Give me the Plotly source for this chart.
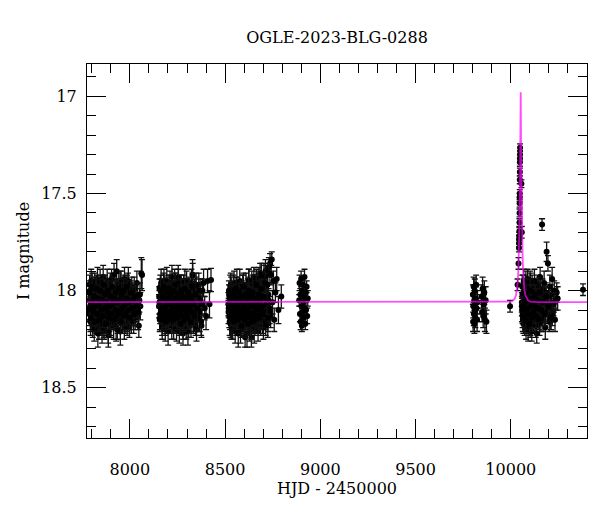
import plotly.graph_objects as go

# ---------------- data ----------------
s1_t = [7785, 7787, 7789, 7791, 7793, 7795, 7797, 7800, 7803, 7805,
        7808, 7811, 7814, 7816, 7819, 7822, 7824, 7827, 7830, 7833,
        7835, 7838, 7841, 7843, 7846, 7849, 7852, 7854, 7857, 7860,
        7862, 7865, 7868, 7871, 7873, 7876, 7879, 7881, 7884, 7887,
        7890, 7892, 7895, 7898, 7901, 7903, 7906, 7909, 7912, 7914,
        7917, 7920, 7922, 7925, 7928, 7931, 7933, 7936, 7939, 7942,
        7944, 7947, 7950, 7953, 7955, 7958, 7961, 7964, 7966, 7969,
        7972, 7975, 7978, 7981, 7984, 7987, 7990, 7994, 7998, 8002,
        8006, 8010, 8015, 8020, 8025, 8031, 8037, 8043, 8050, 8060]
s1_m = [18.05, 18.12, 17.97, 18.08, 18.15, 18.02, 17.95, 18.10, 18.06, 18.18,
        17.99, 18.04, 18.13, 17.96, 18.09, 18.01, 18.16, 18.07, 17.94, 18.11,
        18.03, 18.19, 18.00, 18.08, 17.97, 18.14, 18.05, 18.21, 18.02, 17.93,
        18.10, 18.20, 18.06, 17.98, 18.12, 18.04, 18.17, 17.95, 18.09, 18.23,
        18.01, 18.14, 18.07, 17.96, 18.18, 18.03, 18.11, 17.99, 18.15, 18.05,
        17.92, 18.08, 18.13, 18.00, 18.19, 17.90, 18.06, 18.16, 18.02, 17.97,
        18.10, 18.04, 18.21, 17.95, 18.12, 18.07, 17.99, 18.15, 18.03, 18.09,
        17.94, 18.17, 18.05, 18.11, 18.01, 18.14, 17.96, 18.08, 18.19, 18.03,
        18.12, 17.98, 18.06, 18.16, 18.02, 18.10, 17.96, 18.13, 18.05, 17.91]
s1_e = [0.05, 0.06, 0.05, 0.07, 0.06, 0.05, 0.06, 0.05, 0.07, 0.06,
        0.05, 0.06, 0.06, 0.05, 0.07, 0.05, 0.06, 0.05, 0.06, 0.07,
        0.05, 0.06, 0.05, 0.06, 0.05, 0.07, 0.06, 0.06, 0.05, 0.06,
        0.06, 0.05, 0.07, 0.05, 0.06, 0.05, 0.06, 0.06, 0.05, 0.06,
        0.05, 0.07, 0.06, 0.05, 0.06, 0.05, 0.06, 0.07, 0.05, 0.06,
        0.06, 0.05, 0.06, 0.05, 0.07, 0.06, 0.05, 0.06, 0.05, 0.06,
        0.05, 0.06, 0.07, 0.05, 0.06, 0.05, 0.06, 0.05, 0.07, 0.06,
        0.06, 0.05, 0.06, 0.05, 0.06, 0.07, 0.05, 0.06, 0.05, 0.06,
        0.06, 0.05, 0.07, 0.06, 0.05, 0.06, 0.06, 0.07, 0.06, 0.08]

s1b_t = [7786, 7790, 7794, 7798, 7802, 7806, 7810, 7813, 7817, 7821,
         7825, 7829, 7832, 7836, 7840, 7844, 7848, 7851, 7855, 7859,
         7863, 7867, 7870, 7874, 7878, 7882, 7886, 7889, 7893, 7897,
         7900, 7904, 7908, 7911, 7915, 7919, 7923, 7927, 7930, 7934,
         7938, 7941, 7945, 7949, 7952, 7956, 7960, 7963, 7967, 7971,
         7974, 7977, 7980, 7983, 7986, 7989, 7992, 7996, 8000, 8004,
         8008, 8013, 8018, 8023, 8028, 8034, 8040, 8047, 8055, 8064]
s1b_m = [18.10, 18.00, 18.16, 18.07, 17.96, 18.13, 18.03, 18.20, 18.09, 17.98,
         18.14, 18.05, 18.22, 18.01, 18.11, 17.95, 18.17, 18.06, 18.13, 18.02,
         18.19, 18.08, 17.97, 18.15, 18.04, 18.12, 18.21, 18.00, 18.10, 18.16,
         18.06, 17.94, 18.13, 18.03, 18.18, 18.09, 17.99, 18.14, 18.05, 18.20,
         18.01, 18.11, 18.07, 17.96, 18.16, 18.02, 18.12, 18.08, 17.98, 18.19,
         18.04, 18.13, 18.00, 18.10, 18.17, 18.06, 17.95, 18.14, 18.02, 18.09,
         18.16, 18.01, 18.11, 17.99, 18.14, 18.07, 18.03, 18.18, 18.08, 17.92]
s1b_e = [0.06, 0.05, 0.07, 0.06, 0.05, 0.06, 0.05, 0.06, 0.07, 0.05,
         0.06, 0.05, 0.07, 0.06, 0.05, 0.06, 0.06, 0.05, 0.07, 0.06,
         0.05, 0.06, 0.05, 0.07, 0.06, 0.05, 0.06, 0.06, 0.05, 0.07,
         0.06, 0.05, 0.06, 0.05, 0.07, 0.06, 0.05, 0.06, 0.06, 0.05,
         0.07, 0.06, 0.05, 0.06, 0.05, 0.07, 0.06, 0.05, 0.06, 0.06,
         0.05, 0.07, 0.06, 0.05, 0.06, 0.05, 0.07, 0.06, 0.05, 0.06,
         0.06, 0.05, 0.07, 0.06, 0.06, 0.05, 0.07, 0.06, 0.07, 0.08]

s1c_t = [7788, 7792, 7796, 7801, 7804, 7809, 7812, 7818, 7820, 7826,
         7828, 7834, 7837, 7842, 7845, 7850, 7853, 7858, 7861, 7866,
         7869, 7875, 7877, 7883, 7885, 7891, 7894, 7899, 7902, 7907,
         7910, 7916, 7918, 7924, 7926, 7932, 7935, 7940, 7943, 7948,
         7951, 7957, 7959, 7965, 7968, 7973, 7976, 7982, 7985, 7991,
         7995, 7999, 8005, 8011, 8016, 8022, 8029, 8036, 8045, 8053]
s1c_m = [18.01, 18.09, 18.14, 17.98, 18.06, 18.11, 18.03, 18.16, 18.08, 17.99,
         18.12, 18.04, 18.07, 18.15, 18.00, 18.10, 18.05, 18.13, 17.97, 18.09,
         18.02, 18.17, 18.06, 18.11, 18.00, 18.14, 18.08, 18.03, 18.12, 17.98,
         18.07, 18.15, 18.04, 18.10, 18.01, 18.13, 18.06, 17.99, 18.11, 18.05,
         18.16, 18.02, 18.09, 18.13, 18.00, 18.07, 18.12, 18.04, 17.98, 18.10,
         18.06, 18.14, 18.01, 18.09, 18.05, 18.12, 18.03, 18.08, 18.11, 18.02]
s1c_e = [0.05, 0.06, 0.06, 0.05, 0.07, 0.05, 0.06, 0.05, 0.06, 0.07,
         0.05, 0.06, 0.05, 0.06, 0.06, 0.05, 0.07, 0.06, 0.05, 0.06,
         0.06, 0.05, 0.06, 0.07, 0.05, 0.06, 0.05, 0.06, 0.06, 0.05,
         0.07, 0.05, 0.06, 0.05, 0.06, 0.06, 0.07, 0.05, 0.06, 0.05,
         0.06, 0.06, 0.05, 0.07, 0.06, 0.05, 0.06, 0.05, 0.06, 0.07,
         0.05, 0.06, 0.06, 0.05, 0.07, 0.06, 0.05, 0.06, 0.07, 0.06]

s2_t = [8153, 8156, 8158, 8161, 8164, 8166, 8169, 8172, 8175, 8177,
        8180, 8183, 8186, 8188, 8191, 8194, 8197, 8199, 8202, 8205,
        8208, 8210, 8213, 8216, 8219, 8221, 8224, 8227, 8230, 8232,
        8235, 8238, 8241, 8243, 8246, 8249, 8252, 8254, 8257, 8260,
        8263, 8265, 8268, 8271, 8274, 8276, 8279, 8282, 8285, 8287,
        8290, 8293, 8296, 8298, 8301, 8304, 8307, 8309, 8312, 8315,
        8318, 8320, 8323, 8326, 8329, 8331, 8334, 8337, 8340, 8343,
        8346, 8350, 8354, 8358, 8362, 8366, 8371, 8376, 8381, 8387,
        8393, 8400, 8408, 8418, 8426]
s2_m = [18.08, 17.99, 18.14, 18.04, 17.96, 18.11, 18.18, 18.02, 18.07, 17.97,
        18.13, 18.05, 18.20, 18.00, 18.09, 17.95, 18.15, 18.06, 18.03, 18.12,
        17.98, 18.17, 18.08, 18.01, 18.14, 17.93, 18.10, 18.05, 18.19, 18.02,
        17.96, 18.12, 18.07, 18.16, 17.99, 18.09, 18.04, 17.93, 18.13, 18.21,
        18.06, 17.98, 18.11, 18.02, 18.17, 18.08, 18.22, 17.97, 18.05, 18.14,
        18.00, 18.10, 18.19, 17.95, 18.07, 18.13, 18.03, 18.18, 17.99, 18.09,
        18.15, 18.04, 17.96, 18.11, 17.92, 18.06, 18.16, 18.01, 18.12, 18.08,
        17.98, 18.20, 18.03, 18.10, 17.97, 18.14, 18.05, 18.18, 18.00, 17.96,
        18.09, 18.13, 17.95, 18.07, 17.945]
s2_e = [0.06, 0.05, 0.06, 0.05, 0.07, 0.06, 0.05, 0.06, 0.05, 0.06,
        0.07, 0.05, 0.06, 0.05, 0.06, 0.07, 0.05, 0.06, 0.05, 0.06,
        0.06, 0.05, 0.07, 0.05, 0.06, 0.06, 0.05, 0.06, 0.06, 0.05,
        0.07, 0.06, 0.05, 0.06, 0.05, 0.06, 0.07, 0.06, 0.05, 0.06,
        0.05, 0.06, 0.05, 0.07, 0.06, 0.05, 0.06, 0.05, 0.06, 0.07,
        0.05, 0.06, 0.06, 0.05, 0.07, 0.06, 0.05, 0.06, 0.05, 0.06,
        0.06, 0.05, 0.07, 0.06, 0.08, 0.05, 0.06, 0.05, 0.06, 0.07,
        0.05, 0.06, 0.06, 0.05, 0.06, 0.07, 0.05, 0.06, 0.06, 0.07,
        0.06, 0.07, 0.06, 0.07, 0.06]

s2b_t = [8154, 8157, 8160, 8163, 8167, 8170, 8173, 8176, 8179, 8182,
         8185, 8189, 8192, 8195, 8198, 8201, 8204, 8207, 8211, 8214,
         8217, 8220, 8223, 8226, 8229, 8233, 8236, 8239, 8242, 8245,
         8248, 8251, 8255, 8258, 8261, 8264, 8267, 8270, 8273, 8277,
         8280, 8283, 8286, 8289, 8292, 8295, 8299, 8302, 8305, 8308,
         8311, 8314, 8317, 8321, 8324, 8327, 8330, 8333, 8336, 8339,
         8342, 8345, 8348, 8352, 8356, 8360, 8364, 8369, 8374, 8379]
s2b_m = [18.03, 18.15, 17.98, 18.10, 18.06, 18.19, 18.01, 18.12, 17.95, 18.08,
         18.16, 18.04, 17.99, 18.13, 18.07, 18.21, 18.02, 18.10, 17.96, 18.14,
         18.05, 18.18, 18.00, 18.11, 18.07, 17.97, 18.15, 18.03, 18.09, 18.20,
         18.01, 18.13, 17.96, 18.08, 18.17, 18.04, 18.11, 17.99, 18.14, 18.06,
         18.19, 18.02, 18.09, 17.95, 18.16, 18.07, 18.12, 18.00, 18.21, 18.05,
         17.98, 18.13, 18.08, 18.17, 18.03, 18.10, 17.92, 18.15, 18.06, 18.01,
         18.12, 18.18, 17.97, 18.09, 18.14, 18.04, 18.11, 18.00, 18.16, 18.07]
s2b_e = [0.05, 0.06, 0.06, 0.05, 0.07, 0.06, 0.05, 0.06, 0.06, 0.05,
         0.07, 0.05, 0.06, 0.06, 0.05, 0.07, 0.06, 0.05, 0.06, 0.05,
         0.06, 0.07, 0.05, 0.06, 0.05, 0.06, 0.07, 0.06, 0.05, 0.06,
         0.05, 0.06, 0.07, 0.05, 0.06, 0.06, 0.05, 0.07, 0.06, 0.05,
         0.06, 0.05, 0.07, 0.06, 0.05, 0.06, 0.06, 0.05, 0.07, 0.06,
         0.05, 0.06, 0.05, 0.07, 0.06, 0.05, 0.06, 0.06, 0.05, 0.07,
         0.06, 0.05, 0.06, 0.05, 0.07, 0.06, 0.05, 0.06, 0.07, 0.06]

s2c_t = [8155, 8159, 8162, 8165, 8168, 8171, 8174, 8178, 8181, 8184,
         8187, 8190, 8193, 8196, 8200, 8203, 8206, 8209, 8212, 8215,
         8218, 8222, 8225, 8228, 8231, 8234, 8237, 8240, 8244, 8247,
         8250, 8253, 8256, 8259, 8262, 8266, 8269, 8272, 8275, 8278,
         8281, 8284, 8288, 8291, 8294, 8297, 8300, 8303, 8306, 8310,
         8313, 8316, 8319, 8322, 8325, 8328, 8332, 8338, 8344, 8353]
s2c_m = [18.06, 18.12, 18.00, 18.09, 18.15, 18.03, 18.10, 17.98, 18.13, 18.05,
         18.08, 18.16, 18.01, 18.11, 18.04, 18.14, 17.99, 18.07, 18.12, 18.02,
         18.10, 18.06, 18.15, 18.00, 18.09, 18.13, 18.04, 17.97, 18.11, 18.07,
         18.14, 18.02, 18.08, 18.12, 18.05, 18.17, 18.00, 18.10, 18.03, 18.13,
         18.07, 18.15, 17.99, 18.09, 18.04, 18.12, 18.06, 18.14, 18.01, 18.10,
         18.08, 18.03, 18.16, 18.05, 18.11, 17.98, 18.07, 18.13, 18.02, 18.09]
s2c_e = [0.06, 0.05, 0.06, 0.07, 0.05, 0.06, 0.05, 0.06, 0.06, 0.05,
         0.07, 0.06, 0.05, 0.06, 0.05, 0.06, 0.07, 0.05, 0.06, 0.06,
         0.05, 0.06, 0.07, 0.05, 0.06, 0.05, 0.06, 0.06, 0.07, 0.05,
         0.06, 0.05, 0.06, 0.07, 0.05, 0.06, 0.06, 0.05, 0.06, 0.07,
         0.05, 0.06, 0.05, 0.06, 0.07, 0.06, 0.05, 0.06, 0.05, 0.06,
         0.07, 0.05, 0.06, 0.06, 0.05, 0.07, 0.06, 0.05, 0.06, 0.07]

s3_t = [8517, 8520, 8522, 8525, 8528, 8530, 8533, 8536, 8539, 8541,
        8544, 8547, 8550, 8552, 8555, 8558, 8561, 8563, 8566, 8569,
        8572, 8574, 8577, 8580, 8583, 8585, 8588, 8591, 8594, 8596,
        8599, 8602, 8605, 8607, 8610, 8613, 8616, 8618, 8621, 8624,
        8627, 8629, 8632, 8635, 8638, 8640, 8643, 8646, 8649, 8651,
        8654, 8657, 8660, 8662, 8665, 8668, 8671, 8673, 8676, 8679,
        8682, 8684, 8687, 8690, 8693, 8695, 8698, 8701, 8704, 8706,
        8709, 8712, 8715, 8718, 8721, 8724, 8727, 8730, 8733, 8736,
        8739, 8742, 8745, 8749, 8753, 8758, 8764, 8771, 8780, 8795]
s3_m = [18.07, 18.00, 18.13, 18.04, 18.17, 17.97, 18.10, 18.05, 18.20, 18.02,
        18.12, 17.96, 18.08, 18.15, 18.03, 18.18, 17.99, 18.09, 18.06, 18.22,
        18.01, 18.13, 17.95, 18.11, 18.05, 18.16, 18.00, 18.08, 18.19, 17.97,
        18.12, 18.04, 18.24, 18.07, 17.98, 18.14, 18.02, 18.10, 18.17, 17.95,
        18.06, 18.20, 18.01, 18.12, 18.24, 17.96, 18.09, 18.04, 18.15, 17.93,
        18.07, 18.18, 18.02, 18.11, 17.94, 18.13, 18.05, 18.21, 17.98, 18.09,
        18.03, 17.91, 18.16, 18.07, 17.96, 18.12, 18.00, 18.19, 17.93, 18.08,
        18.14, 17.90, 18.04, 18.11, 17.97, 18.17, 18.02, 17.88, 18.09, 17.86,
        18.13, 17.92, 17.84, 18.06, 17.95, 18.15, 18.01, 17.94, 18.10, 18.03]
s3_e = [0.06, 0.05, 0.06, 0.05, 0.07, 0.06, 0.05, 0.06, 0.05, 0.06,
        0.05, 0.06, 0.07, 0.05, 0.06, 0.05, 0.06, 0.06, 0.05, 0.07,
        0.06, 0.05, 0.06, 0.05, 0.06, 0.07, 0.05, 0.06, 0.05, 0.06,
        0.06, 0.05, 0.05, 0.06, 0.07, 0.05, 0.06, 0.05, 0.06, 0.06,
        0.05, 0.06, 0.07, 0.05, 0.05, 0.06, 0.05, 0.06, 0.07, 0.05,
        0.06, 0.05, 0.06, 0.06, 0.05, 0.07, 0.06, 0.05, 0.06, 0.05,
        0.06, 0.05, 0.07, 0.06, 0.05, 0.06, 0.05, 0.06, 0.07, 0.05,
        0.06, 0.06, 0.05, 0.06, 0.05, 0.07, 0.06, 0.05, 0.06, 0.05,
        0.06, 0.05, 0.04, 0.06, 0.05, 0.06, 0.05, 0.06, 0.07, 0.06]

s3b_t = [8518, 8521, 8524, 8527, 8531, 8534, 8537, 8540, 8543, 8546,
         8549, 8553, 8556, 8559, 8562, 8565, 8568, 8571, 8575, 8578,
         8581, 8584, 8587, 8590, 8593, 8597, 8600, 8603, 8606, 8609,
         8612, 8615, 8619, 8622, 8625, 8628, 8631, 8634, 8637, 8641,
         8644, 8647, 8650, 8653, 8656, 8659, 8663, 8666, 8669, 8672,
         8675, 8678, 8681, 8685, 8688, 8691, 8694, 8697, 8700, 8703,
         8707, 8710, 8713, 8716, 8719, 8722, 8725, 8728, 8731, 8734]
s3b_m = [18.11, 18.02, 18.16, 17.98, 18.08, 18.19, 18.04, 18.13, 17.99, 18.10,
         18.06, 18.21, 18.01, 18.14, 17.96, 18.09, 18.17, 18.03, 18.12, 18.07,
         18.20, 18.00, 18.15, 18.05, 17.97, 18.11, 18.18, 18.02, 18.09, 18.14,
         18.06, 18.22, 18.00, 18.12, 17.95, 18.08, 18.16, 18.03, 18.19, 18.10,
         17.98, 18.13, 18.05, 18.20, 18.01, 18.11, 17.96, 18.15, 18.07, 18.02,
         18.17, 17.94, 18.09, 18.13, 18.04, 17.92, 18.10, 18.16, 17.99, 18.06,
         18.12, 17.93, 18.18, 18.03, 18.09, 17.97, 18.14, 18.05, 17.91, 18.11]
s3b_e = [0.06, 0.05, 0.07, 0.06, 0.05, 0.06, 0.06, 0.05, 0.07, 0.06,
         0.05, 0.06, 0.06, 0.05, 0.07, 0.06, 0.05, 0.06, 0.05, 0.06,
         0.07, 0.05, 0.06, 0.06, 0.05, 0.07, 0.06, 0.05, 0.06, 0.06,
         0.05, 0.07, 0.06, 0.05, 0.06, 0.05, 0.06, 0.07, 0.06, 0.05,
         0.06, 0.06, 0.05, 0.07, 0.06, 0.05, 0.06, 0.05, 0.07, 0.06,
         0.05, 0.06, 0.06, 0.05, 0.07, 0.06, 0.05, 0.06, 0.06, 0.05,
         0.07, 0.06, 0.05, 0.06, 0.05, 0.06, 0.07, 0.06, 0.05, 0.06]

s3c_t = [8519, 8523, 8526, 8529, 8532, 8535, 8538, 8542, 8545, 8548,
         8551, 8554, 8557, 8560, 8564, 8567, 8570, 8573, 8576, 8579,
         8582, 8586, 8589, 8592, 8595, 8598, 8601, 8604, 8608, 8611,
         8614, 8617, 8620, 8623, 8626, 8630, 8633, 8636, 8639, 8642,
         8645, 8648, 8652, 8655, 8658, 8661, 8664, 8667, 8670, 8674,
         8677, 8680, 8683, 8686, 8689, 8692, 8696, 8702, 8711, 8720]
s3c_m = [18.09, 18.03, 18.14, 18.06, 18.00, 18.12, 18.08, 18.16, 18.02, 18.10,
         18.05, 18.13, 17.99, 18.07, 18.15, 18.04, 18.11, 18.01, 18.09, 18.14,
         18.06, 18.18, 18.03, 18.10, 17.98, 18.12, 18.07, 18.15, 18.02, 18.09,
         18.13, 18.05, 18.17, 18.00, 18.11, 18.06, 18.14, 18.03, 18.08, 18.16,
         18.01, 18.12, 18.07, 18.15, 18.04, 18.10, 17.97, 18.13, 18.06, 18.09,
         18.02, 18.14, 18.05, 18.11, 17.99, 18.08, 18.12, 18.03, 17.96, 18.06]
s3c_e = [0.05, 0.06, 0.06, 0.05, 0.07, 0.06, 0.05, 0.06, 0.05, 0.06,
         0.07, 0.05, 0.06, 0.06, 0.05, 0.06, 0.07, 0.05, 0.06, 0.05,
         0.06, 0.06, 0.07, 0.05, 0.06, 0.05, 0.06, 0.07, 0.06, 0.05,
         0.06, 0.05, 0.06, 0.07, 0.05, 0.06, 0.06, 0.05, 0.07, 0.06,
         0.05, 0.06, 0.05, 0.06, 0.07, 0.06, 0.05, 0.06, 0.06, 0.05,
         0.07, 0.06, 0.05, 0.06, 0.05, 0.06, 0.07, 0.06, 0.05, 0.06]

s4_t = [8889, 8891, 8893, 8895, 8897, 8899, 8901, 8903, 8905, 8907, 8909,
        8911, 8913, 8915, 8917, 8919, 8921, 8923, 8925, 8928, 8931, 8934]
s4_m = [18.05, 17.96, 18.12, 18.02, 18.16, 17.94, 18.08, 18.18, 18.00, 18.11, 17.97,
        18.06, 18.14, 18.03, 17.93, 18.09, 18.17, 18.01, 18.10, 17.98, 18.13, 18.04]
s4_e = [0.03, 0.04, 0.04, 0.03, 0.04, 0.04, 0.03, 0.03, 0.04, 0.03, 0.04,
        0.03, 0.04, 0.03, 0.04, 0.04, 0.03, 0.03, 0.04, 0.03, 0.04, 0.04]

s5_t = [9801, 9802, 9803, 9805, 9806, 9808, 9809, 9811, 9812, 9814, 9816, 9818,
        9820, 9823, 9825, 9846, 9849, 9852, 9855, 9858, 9861, 9864, 9868, 9872]
s5_m = [18.02, 18.16, 18.08, 17.98, 18.12, 18.05, 18.17, 18.00, 18.10, 18.14, 18.04, 17.97,
        18.09, 18.15, 18.06, 18.03, 18.11, 17.99, 18.13, 18.07, 18.01, 18.15, 18.05, 18.16]
s5_e = [0.05, 0.05, 0.06, 0.05, 0.06, 0.05, 0.05, 0.06, 0.05, 0.05, 0.06, 0.05,
        0.05, 0.06, 0.06, 0.06, 0.05, 0.06, 0.06, 0.05, 0.06, 0.06, 0.07, 0.06]

pk_t = [9996, 10035.5, 10040.5, 10043.0, 10043.5, 10044.0, 10044.5, 10045.0, 10045.5,
        10046.0, 10046.3, 10046.6, 10047.0, 10047.3, 10047.6, 10047.8, 10048.0,
        10048.3, 10048.6, 10055.5, 10057.5]
pk_m = [18.08, 17.97, 17.86, 17.78, 17.755, 17.735, 17.72, 17.695, 17.65,
        17.60, 17.55, 17.52, 17.50, 17.43, 17.39, 17.34, 17.32,
        17.30, 17.265, 17.45, 17.70]
pk_e = [0.03, 0.03, 0.03, 0.02, 0.02, 0.02, 0.02, 0.02, 0.02,
        0.02, 0.02, 0.02, 0.02, 0.02, 0.02, 0.02, 0.02,
        0.02, 0.02, 0.02, 0.03]

s6_t = [10058, 10060, 10062, 10064, 10066, 10068, 10070, 10072, 10074, 10076,
        10078, 10080, 10082, 10084, 10086, 10088, 10090, 10092, 10094, 10096,
        10098, 10100, 10102, 10104, 10106, 10108, 10110, 10112, 10115, 10118,
        10121, 10124, 10127, 10130, 10133, 10136, 10139, 10142, 10145, 10148,
        10151, 10154, 10157, 10160, 10163, 10166, 10169, 10172, 10175, 10178,
        10181, 10184, 10188, 10190, 10193, 10195, 10199, 10202, 10205, 10208,
        10211, 10214, 10217, 10220, 10224, 10228, 10232, 10236, 10241, 10246,
        10164, 10379]
s6_m = [18.06, 17.98, 18.12, 18.03, 18.17, 17.95, 18.09, 18.01, 18.14, 18.05,
        17.97, 18.19, 18.07, 18.00, 18.11, 17.94, 18.15, 18.04, 18.08, 17.99,
        18.13, 18.02, 18.18, 17.96, 18.10, 18.06, 18.21, 17.98, 18.12, 18.03,
        18.16, 17.95, 18.09, 18.00, 18.14, 18.22, 18.05, 17.97, 18.11, 18.07,
        18.17, 17.93, 18.02, 18.13, 18.08, 17.99, 18.15, 18.04, 17.96, 18.10,
        18.19, 18.01, 17.80, 18.06, 18.12, 17.86, 18.03, 18.16, 17.98, 18.09,
        18.14, 18.02, 17.94, 18.11, 18.07, 18.00, 18.15, 18.05, 18.01, 18.04,
        17.66, 17.995]
s6_e = [0.05, 0.06, 0.05, 0.06, 0.05, 0.06, 0.05, 0.06, 0.05, 0.06,
        0.05, 0.06, 0.05, 0.05, 0.06, 0.05, 0.06, 0.05, 0.06, 0.05,
        0.06, 0.05, 0.06, 0.05, 0.05, 0.06, 0.05, 0.06, 0.05, 0.06,
        0.05, 0.06, 0.05, 0.06, 0.05, 0.05, 0.06, 0.05, 0.06, 0.05,
        0.06, 0.05, 0.06, 0.05, 0.06, 0.05, 0.06, 0.05, 0.06, 0.05,
        0.06, 0.05, 0.05, 0.06, 0.05, 0.04, 0.06, 0.05, 0.06, 0.05,
        0.06, 0.05, 0.06, 0.05, 0.06, 0.05, 0.06, 0.05, 0.05, 0.06,
        0.03, 0.03]

s6b_t = [10059, 10061, 10063, 10065, 10067, 10069, 10071, 10073, 10075, 10077,
         10079, 10081, 10083, 10085, 10087, 10089, 10091, 10093, 10095, 10097,
         10099, 10101, 10103, 10105, 10107, 10109, 10113, 10117, 10122, 10126,
         10131, 10135, 10140, 10146, 10152, 10158, 10170, 10182, 10200, 10218]
s6b_m = [18.10, 18.02, 18.15, 17.97, 18.07, 18.13, 18.00, 18.18, 18.05, 18.11,
         17.96, 18.08, 18.16, 18.03, 18.12, 17.99, 18.20, 18.06, 18.01, 18.14,
         18.09, 17.95, 18.17, 18.04, 18.12, 18.00, 18.15, 18.07, 18.10, 18.02,
         18.18, 18.05, 18.13, 17.98, 18.09, 18.16, 18.04, 18.11, 18.07, 18.12]
s6b_e = [0.06, 0.05, 0.06, 0.05, 0.06, 0.05, 0.06, 0.05, 0.06, 0.05,
         0.06, 0.05, 0.06, 0.05, 0.06, 0.05, 0.06, 0.05, 0.06, 0.05,
         0.06, 0.05, 0.06, 0.05, 0.06, 0.05, 0.06, 0.05, 0.06, 0.05,
         0.06, 0.05, 0.06, 0.05, 0.06, 0.05, 0.06, 0.05, 0.06, 0.06]

s6c_t = [10058, 10062, 10066, 10070, 10074, 10078, 10082, 10086, 10090, 10094,
         10098, 10102, 10106, 10110, 10114, 10119, 10123, 10128, 10132, 10137,
         10141, 10147, 10153, 10159, 10167, 10176, 10185, 10197, 10210, 10226]
s6c_m = [18.08, 18.13, 18.01, 18.10, 18.06, 18.15, 18.03, 18.09, 18.12, 18.05,
         18.17, 18.00, 18.08, 18.14, 18.04, 18.11, 18.07, 18.02, 18.13, 18.09,
         18.05, 18.15, 18.01, 18.10, 18.06, 18.12, 18.03, 18.08, 18.14, 18.06]
s6c_e = [0.05, 0.06, 0.05, 0.06, 0.06, 0.05, 0.06, 0.05, 0.06, 0.05,
         0.06, 0.06, 0.05, 0.06, 0.05, 0.06, 0.06, 0.05, 0.06, 0.05,
         0.06, 0.05, 0.06, 0.06, 0.05, 0.06, 0.05, 0.06, 0.06, 0.05]

model_t = [7775, 9950, 10003, 10013, 10021, 10027, 10032, 10036, 10039, 10042,
           10044, 10046, 10048, 10049.5, 10050.7, 10052, 10053.3, 10054.5, 10056,
           10058, 10060, 10062, 10065, 10068, 10072, 10077, 10083, 10091, 10101,
           10143, 10400]
model_m = [18.059, 18.059, 18.056, 18.050, 18.040, 18.025, 18.000, 17.960, 17.910, 17.830,
           17.750, 17.640, 17.480, 17.330, 17.170, 16.980, 17.170, 17.330, 17.480,
           17.640, 17.750, 17.830, 17.910, 17.960, 18.000, 18.025, 18.040, 18.050, 18.056,
           18.059, 18.059]

x_ticks = [8000, 8500, 9000, 9500, 10000]
x_tick_text = ["8000", "8500", "9000", "9500", "10000"]
y_ticks = [17, 17.5, 18, 18.5]
y_tick_text = ["17", "17.5", "18", "18.5"]

FONT = "DejaVu Serif"

fig = go.Figure()
for t, m, e in [(s1_t, s1_m, s1_e), (s1b_t, s1b_m, s1b_e), (s1c_t, s1c_m, s1c_e),
                (s2_t, s2_m, s2_e), (s2b_t, s2b_m, s2b_e), (s2c_t, s2c_m, s2c_e),
                (s3_t, s3_m, s3_e), (s3b_t, s3b_m, s3b_e), (s3c_t, s3c_m, s3c_e),
                (s4_t, s4_m, s4_e), (s5_t, s5_m, s5_e),
                (s6_t, s6_m, s6_e), (s6b_t, s6b_m, s6b_e), (s6c_t, s6c_m, s6c_e),
                (pk_t, pk_m, pk_e)]:
    fig.add_trace(go.Scatter(
        x=t, y=m, mode="markers",
        marker=dict(color="black", size=6, line=dict(width=0)),
        error_y=dict(type="data", array=e, visible=True,
                     color="#111111", thickness=1.3, width=3),
        showlegend=False, hoverinfo="skip"))

fig.add_trace(go.Scatter(
    x=model_t, y=model_m, mode="lines",
    line=dict(color="rgba(255,0,255,0.7)", width=1.8),
    showlegend=False, hoverinfo="skip"))

axis_common = dict(
    showline=True, linecolor="black", linewidth=1, mirror="allticks",
    ticks="inside", tickcolor="black", tickwidth=1, ticklen=19,
    showgrid=False, zeroline=False, automargin=False,
    tickfont=dict(family=FONT, size=16, color="black"),
)

# the page adds an 8 px body margin, so the margins below are shifted to keep
# the plot frame at x 87..587, y 63..437 in the 600x512 window
fig.update_layout(
    width=600, height=512,
    margin=dict(l=79, r=21, t=56, b=82, autoexpand=False),
    paper_bgcolor="white", plot_bgcolor="white",
    title=dict(text="OGLE-2023-BLG-0288", x=0.5, xref="paper",
               y=1 - 29 / 512, yref="container", yanchor="middle",
               automargin=False,
               font=dict(family=FONT, size=16, color="black")),
    xaxis=dict(range=[7775, 10400], tickvals=x_ticks, ticktext=x_tick_text,
               minor=dict(dtick=100, tick0=0, ticks="inside", ticklen=9,
                          tickcolor="black", tickwidth=1, showgrid=False),
               ticklabelstandoff=17,
               title=dict(text="HJD - 2450000", standoff=2,
                          font=dict(family=FONT, size=16, color="black")),
               **axis_common),
    yaxis=dict(range=[18.758, 16.834], tickvals=y_ticks, ticktext=y_tick_text,
               minor=dict(dtick=0.1, tick0=17, ticks="inside", ticklen=9,
                          tickcolor="black", tickwidth=1, showgrid=False),
               ticklabelstandoff=6,
               title=dict(text="I magnitude", standoff=7,
                          font=dict(family=FONT, size=16, color="black")),
               **axis_common),
)

fig.write_html("out.html")
